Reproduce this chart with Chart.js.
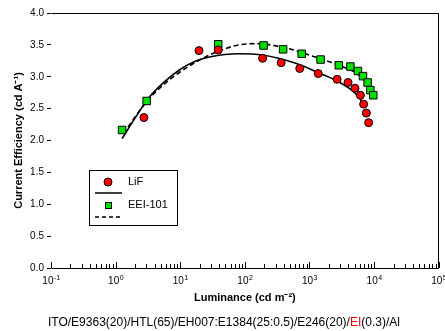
<!DOCTYPE html>
<html>
<head>
<meta charset="utf-8">
<script src="https://cdn.jsdelivr.net/npm/chart.js@4"></script>
<style>
  html, body { margin: 0; padding: 0; background: #fff; }
  #wrap { position: relative; width: 445px; height: 331px; }
  #caption {
    position: absolute; left: 48px; top: 315px;
    font: 12px "Liberation Sans", Arial, sans-serif; color: #000;
    white-space: nowrap; line-height: 14px;
  }
  #caption span { color: #ff0000; }
</style>
</head>
<body>
<div id="wrap">
  <canvas id="ceChart" width="445" height="331"></canvas>
  <div id="caption">ITO/E9363(20)/HTL(65)/EH007:E1384(25:0.5)/E246(20)/<span>EI</span>(0.3)/Al</div>
</div>
<script>
// measured points (luminance cd/m2, efficiency cd/A)
const lifLum = [2.74, 19.5, 38.7, 188, 365, 707, 1366, 2680, 3950, 5070, 6140, 6890, 7590, 8230];
const lifCE  = [2.36, 3.41, 3.42, 3.29, 3.22, 3.13, 3.05, 2.96, 2.91, 2.82, 2.71, 2.57, 2.43, 2.28];

const eeiLum = [1.26, 3.02, 38.7, 195, 391, 759, 1486, 2845, 4300, 5630, 6730, 7940, 8750, 9720];
const eeiCE  = [2.165, 2.62, 3.51, 3.49, 3.43, 3.36, 3.27, 3.18, 3.16, 3.09, 3.01, 2.91, 2.79, 2.71];

// fitted curves
const lifFitLum = [1.26, 2.0, 3.2, 5.4, 9.8, 17.8, 28.4, 80, 188, 614, 1400, 2845, 5140, 6490, 7140];
const lifFitCE  = [2.03, 2.35, 2.66, 2.90, 3.11, 3.25, 3.31, 3.36, 3.34, 3.21, 3.06, 2.92, 2.74, 2.61, 2.53];

const eeiFitLum = [1.32, 3.02, 5.45, 12.4, 28.4, 73, 149, 430, 1400, 3200, 5780, 8750, 10400];
const eeiFitCE  = [2.11, 2.61, 2.87, 3.14, 3.34, 3.49, 3.52, 3.45, 3.29, 3.16, 3.03, 2.84, 2.74];

// x tick labels: base 10 with these exponents
const xTickExps = ['-1', '0', '1', '2', '3', '4', '5'];

const FONT = '"Liberation Sans", Arial, sans-serif';

function pts(xs, ys) {
    return xs.map((v, i) => ({ x: v, y: ys[i] }));
}

function isDecade(v) {
    const e = Math.log10(v);
    return Math.abs(e - Math.round(e)) < 1e-9;
}

// frame, inward ticks and 10^n labels on the log axis
const frameTicks = {
    id: 'frameTicks',
    afterDraw(chart) {
        const { ctx, chartArea: a, scales: { x } } = chart;
        ctx.save();
        ctx.strokeStyle = '#000';
        ctx.lineWidth = 1;
        ctx.beginPath();
        ctx.moveTo(Math.round(a.left) + 0.5, Math.round(a.top) + 0.5);
        ctx.lineTo(Math.round(a.right) - 0.5, Math.round(a.top) + 0.5);
        ctx.lineTo(Math.round(a.right) - 0.5, Math.round(a.bottom) + 0.5);
        ctx.lineTo(Math.round(a.left) + 0.5, Math.round(a.bottom) + 0.5);
        ctx.stroke();
        ctx.beginPath();
        x.ticks.forEach(t => {
            const px = Math.round(x.getPixelForValue(t.value)) + 0.5;
            const len = isDecade(t.value) ? 6 : 4;
            ctx.moveTo(px, a.bottom);
            ctx.lineTo(px, a.bottom - len);
        });
        ctx.stroke();

        ctx.fillStyle = '#000';
        ctx.textBaseline = 'alphabetic';
        ctx.textAlign = 'left';
        x.ticks.forEach(t => {
            if (!isDecade(t.value)) return;
            const exp = xTickExps[Math.round(Math.log10(t.value)) + 1];
            const px = x.getPixelForValue(t.value);
            ctx.font = '10px ' + FONT;
            const w1 = ctx.measureText('10').width;
            ctx.font = '7px ' + FONT;
            const w2 = ctx.measureText(exp).width;
            const sx = px - (w1 + w2) / 2;
            const by = a.bottom + 16;
            ctx.font = '10px ' + FONT;
            ctx.fillText('10', sx, by);
            ctx.font = '7px ' + FONT;
            ctx.fillText(exp, sx + w1 + 0.5, by - 4);
        });
        ctx.restore();
    }
};

// boxed legend like the original figure
const boxLegend = {
    id: 'boxLegend',
    afterDraw(chart) {
        const { ctx, chartArea: a } = chart;
        const bx = a.left + 38, by = a.top + 157;
        ctx.save();
        ctx.strokeStyle = '#000';
        ctx.lineWidth = 1;
        ctx.strokeRect(bx + 0.5, by + 0.5, 88, 55);

        ctx.font = '11px ' + FONT;
        ctx.fillStyle = '#000';
        ctx.textBaseline = 'middle';
        ctx.fillText('LiF', bx + 39, by + 12);
        ctx.fillText('EEI-101', bx + 39, by + 35);

        // circle
        ctx.beginPath();
        ctx.arc(bx + 19, by + 12, 4, 0, Math.PI * 2);
        ctx.fillStyle = '#ff0000';
        ctx.fill();
        ctx.stroke();
        // solid
        ctx.lineWidth = 1.5;
        ctx.beginPath();
        ctx.moveTo(bx + 6, by + 23);
        ctx.lineTo(bx + 33, by + 23);
        ctx.stroke();
        // square
        ctx.lineWidth = 1;
        ctx.fillStyle = '#00e000';
        ctx.fillRect(bx + 16, by + 32, 6, 6);
        ctx.strokeRect(bx + 16.5, by + 32.5, 6, 6);
        // dashed
        ctx.lineWidth = 1.5;
        ctx.setLineDash([4, 3]);
        ctx.beginPath();
        ctx.moveTo(bx + 6, by + 47);
        ctx.lineTo(bx + 33, by + 47);
        ctx.stroke();
        ctx.restore();
    }
};

new Chart(document.getElementById('ceChart'), {
    type: 'scatter',
    data: {
        datasets: [
            {
                label: 'LiF',
                data: pts(lifLum, lifCE),
                pointStyle: 'circle',
                pointRadius: 4,
                backgroundColor: '#ff0000',
                borderColor: '#000',
                borderWidth: 1
            },
            {
                label: 'EEI-101',
                data: pts(eeiLum, eeiCE),
                pointStyle: 'rect',
                pointRadius: 5.3,
                backgroundColor: '#00e000',
                borderColor: '#000',
                borderWidth: 1
            },
            {
                label: 'LiF fit',
                data: pts(lifFitLum, lifFitCE),
                showLine: true,
                pointRadius: 0,
                borderColor: '#000',
                borderWidth: 1.6,
                cubicInterpolationMode: 'monotone'
            },
            {
                label: 'EEI-101 fit',
                data: pts(eeiFitLum, eeiFitCE),
                showLine: true,
                pointRadius: 0,
                borderColor: '#000',
                borderWidth: 1.6,
                borderDash: [5, 3],
                cubicInterpolationMode: 'monotone'
            }
        ]
    },
    options: {
        responsive: false,
        animation: false,
        events: [],
        layout: { padding: { top: 13, right: 4, left: 0, bottom: 0 } },
        plugins: {
            legend: { display: false },
            tooltip: { enabled: false }
        },
        scales: {
            x: {
                type: 'logarithmic',
                min: 0.1,
                max: 100000,
                afterFit: s => { s.height = 63; },
                afterBuildTicks: s => {
                    const t = [];
                    for (let k = -1; k <= 4; k++) {
                        for (let m = 1; m <= 9; m++) t.push({ value: m * Math.pow(10, k) });
                    }
                    t.push({ value: 100000 });
                    s.ticks = t;
                },
                grid: { display: false, drawTicks: false },
                border: { display: false },
                ticks: {
                    autoSkip: false,
                    maxRotation: 0,
                    padding: 5,
                    font: { family: FONT, size: 10 },
                    callback: () => ''
                },
                title: {
                    display: true,
                    text: 'Luminance (cd m\u207B\u00B2)',
                    color: '#000',
                    font: { family: FONT, size: 11, weight: 'bold' },
                    padding: { top: 0, bottom: 26 }
                }
            },
            y: {
                min: 0,
                max: 4,
                afterFit: s => { s.width = 51; },
                grid: { drawOnChartArea: false, drawTicks: true, tickLength: 4, color: '#000' },
                border: { display: false },
                ticks: {
                    stepSize: 0.5,
                    padding: 3,
                    color: '#000',
                    font: { family: FONT, size: 10 },
                    callback: v => v.toFixed(1)
                },
                title: {
                    display: true,
                    text: 'Current Efficiency (cd A\u207B\u00B9)',
                    color: '#000',
                    font: { family: FONT, size: 11, weight: 'bold' },
                    padding: { top: 12, bottom: 0 }
                }
            }
        }
    },
    plugins: [frameTicks, boxLegend]
});
</script>
</body>
</html>
